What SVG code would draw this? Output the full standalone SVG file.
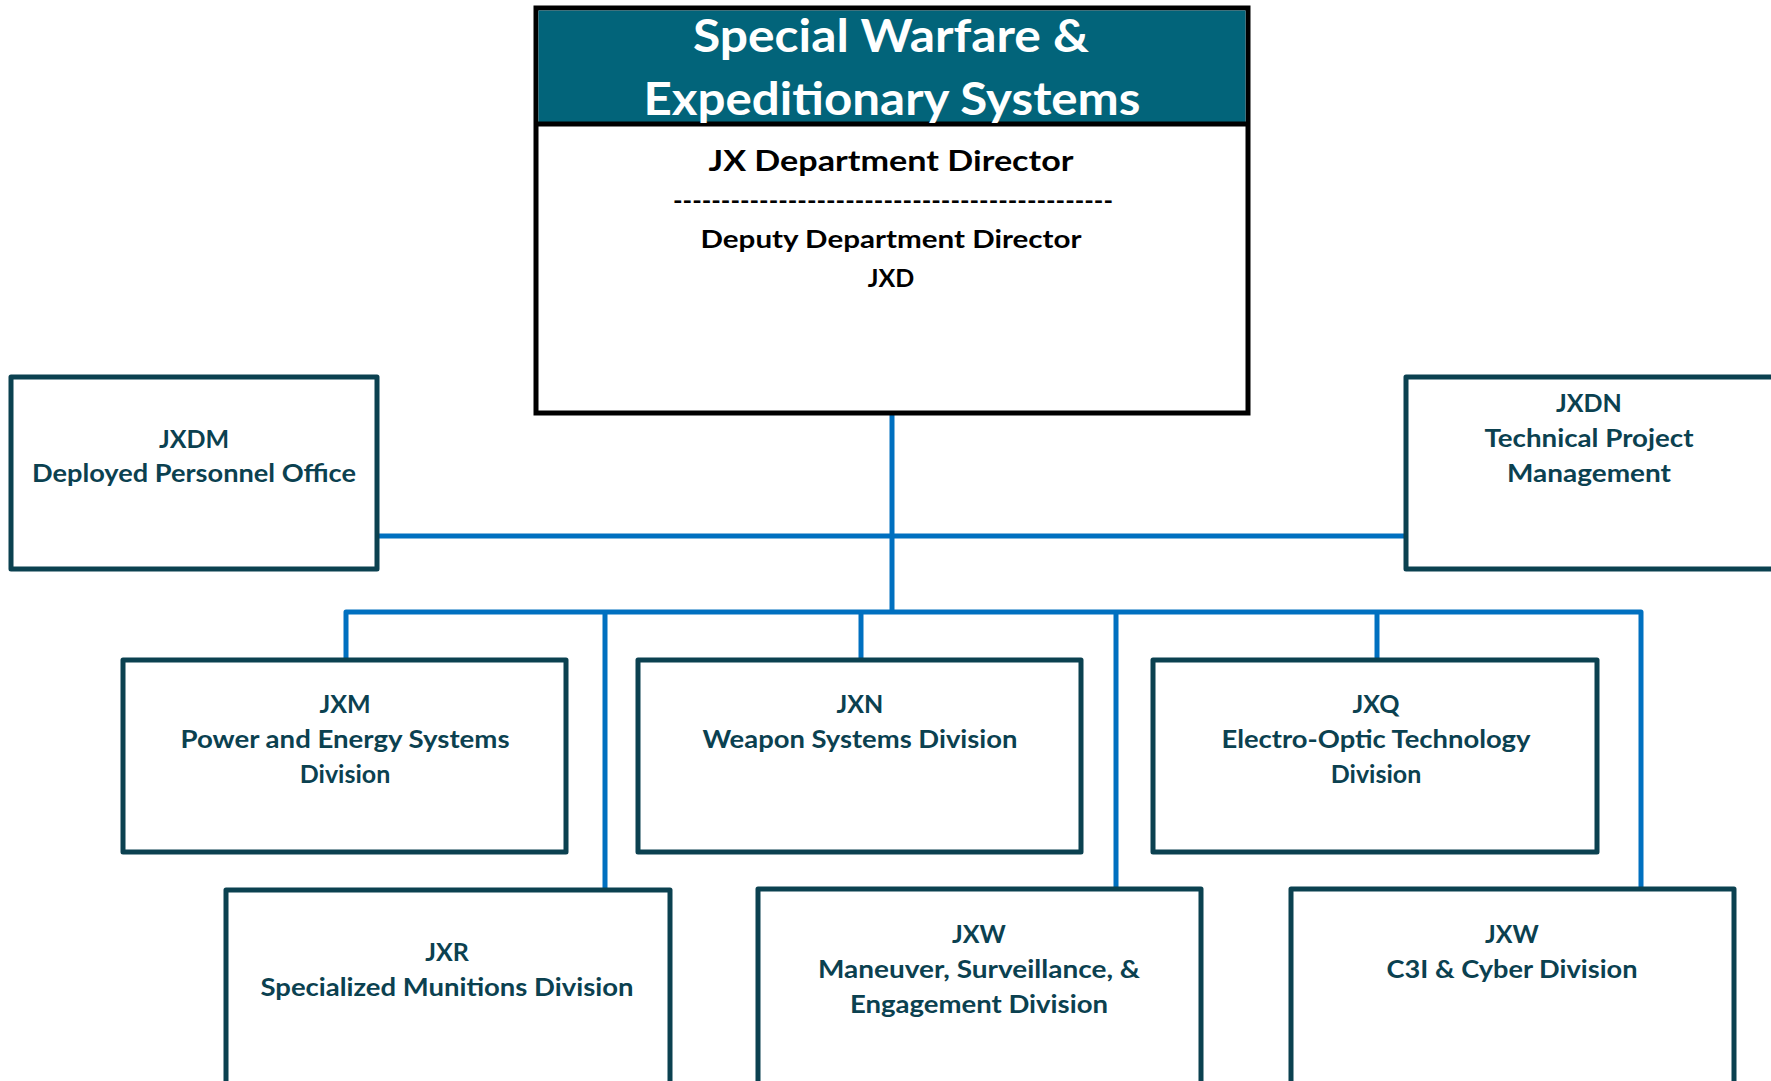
<svg xmlns="http://www.w3.org/2000/svg" width="1771" height="1081" viewBox="0 0 1771 1081">
<style>
.box{fill:#ffffff;stroke:#0B4150;stroke-width:5;stroke-linejoin:round}
.lbl{font-family:Lato,"Open Sans","Liberation Sans",sans-serif;font-weight:700;font-size:25px;fill:#0B4150;text-anchor:middle}
.hd{font-family:Lato,"Open Sans","Liberation Sans",sans-serif;font-weight:700;fill:#000000;text-anchor:middle}
.ttl{font-family:Lato,"Open Sans","Liberation Sans",sans-serif;font-weight:700;font-size:45px;fill:#ffffff;text-anchor:middle}
.con{stroke:#0070C0;stroke-width:5;fill:none;stroke-linejoin:round}
</style>
<rect width="1771" height="1081" fill="#ffffff"/>
<g id="connectors">
<path class="con" d="M892,413 V612"/>
<path class="con" d="M378,536 H1406"/>
<path class="con" d="M346,660 V612 H1641 V889"/>
<path class="con" d="M605,612 V890"/>
<path class="con" d="M861,612 V660"/>
<path class="con" d="M1116,612 V889"/>
<path class="con" d="M1377,612 V660"/>
</g>
<g id="director">
<rect x="536" y="8" width="712" height="405" fill="#ffffff" stroke="#000000" stroke-width="5"/>
<rect x="538.5" y="10.5" width="707" height="113" fill="#02647A"/>
<line x1="536" y1="124" x2="1248" y2="124" stroke="#000000" stroke-width="5"/>
<text class="ttl" x="891" y="52" textLength="396" lengthAdjust="spacingAndGlyphs">Special Warfare &amp;</text>
<text class="ttl" x="892" y="115" textLength="497" lengthAdjust="spacingAndGlyphs">Expeditionary Systems</text>
<text class="hd" x="891" y="171" font-size="29" textLength="365" lengthAdjust="spacingAndGlyphs">JX Department Director</text>
<text class="hd" x="893" y="209" font-size="24" textLength="440" lengthAdjust="spacingAndGlyphs">----------------------------------------------</text>
<text class="hd" x="891" y="248" font-size="25" textLength="381" lengthAdjust="spacingAndGlyphs">Deputy Department Director</text>
<text class="hd" x="891" y="287" font-size="25">JXD</text>
</g>
<g id="jxdm">
<rect class="box" x="11" y="377" width="366" height="192"/>
<text class="lbl" x="194" y="448">JXDM</text>
<text class="lbl" x="194" y="482" textLength="324" lengthAdjust="spacingAndGlyphs">Deployed Personnel Office</text>
</g>
<g id="jxdn">
<rect class="box" x="1406" y="377" width="372" height="192"/>
<text class="lbl" x="1589" y="412">JXDN</text>
<text class="lbl" x="1589" y="447" textLength="209" lengthAdjust="spacingAndGlyphs">Technical Project</text>
<text class="lbl" x="1589" y="482" textLength="164" lengthAdjust="spacingAndGlyphs">Management</text>
</g>
<g id="jxm">
<rect class="box" x="123" y="660" width="443" height="192"/>
<text class="lbl" x="345" y="713">JXM</text>
<text class="lbl" x="345" y="748" textLength="329" lengthAdjust="spacingAndGlyphs">Power and Energy Systems</text>
<text class="lbl" x="345" y="783">Division</text>
</g>
<g id="jxn">
<rect class="box" x="638" y="660" width="443" height="192"/>
<text class="lbl" x="860" y="713">JXN</text>
<text class="lbl" x="860" y="748" textLength="315" lengthAdjust="spacingAndGlyphs">Weapon Systems Division</text>
</g>
<g id="jxq">
<rect class="box" x="1153" y="660" width="444" height="192"/>
<text class="lbl" x="1376" y="713">JXQ</text>
<text class="lbl" x="1376" y="748" textLength="309" lengthAdjust="spacingAndGlyphs">Electro-Optic Technology</text>
<text class="lbl" x="1376" y="783">Division</text>
</g>
<g id="jxr">
<rect class="box" x="226" y="890" width="444" height="200"/>
<text class="lbl" x="447" y="961">JXR</text>
<text class="lbl" x="447" y="996" textLength="373" lengthAdjust="spacingAndGlyphs">Specialized Munitions Division</text>
</g>
<g id="jxw-mse">
<rect class="box" x="758" y="889" width="443" height="200"/>
<text class="lbl" x="979" y="943">JXW</text>
<text class="lbl" x="979" y="978" textLength="322" lengthAdjust="spacingAndGlyphs">Maneuver, Surveillance, &amp;</text>
<text class="lbl" x="979" y="1013" textLength="258" lengthAdjust="spacingAndGlyphs">Engagement Division</text>
</g>
<g id="jxw-c3i">
<rect class="box" x="1291" y="889" width="443" height="200"/>
<text class="lbl" x="1512" y="943">JXW</text>
<text class="lbl" x="1512" y="978" textLength="251" lengthAdjust="spacingAndGlyphs">C3I &amp; Cyber Division</text>
</g>
</svg>
